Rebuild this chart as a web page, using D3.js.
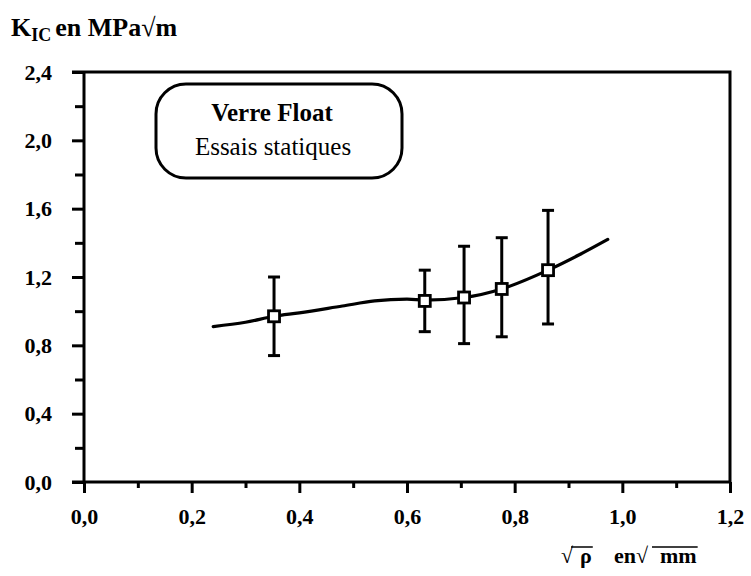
<!DOCTYPE html>
<html lang="fr">
<head>
<meta charset="UTF-8">
<title>Verre Float - Essais statiques</title>
<style>
  body { margin: 0; background: #fff; }
  svg { display: block; font-family: "Liberation Serif", "Times New Roman", serif; }
  .tick text { font-family: "Liberation Serif", serif; font-size: 22px; font-weight: bold; fill: #000; }
</style>
</head>
<body>
<svg id="chart" width="751" height="576"></svg>
<script src="https://d3js.org/d3.v7.min.js"></script>
<script>
// mesures (racine du rayon, KIC) avec barres d'erreur
const rootRho = [0.353, 0.633, 0.706, 0.776, 0.862];
const kic     = [0.97, 1.06, 1.08, 1.13, 1.24];
const kicLow  = [0.74, 0.88, 0.81, 0.85, 0.925];
const kicHigh = [1.20, 1.24, 1.38, 1.43, 1.59];

// courbe lissée
const curveX = [0.24, 0.30, 0.353, 0.40, 0.48, 0.54, 0.60, 0.633, 0.706, 0.776, 0.862, 0.92, 0.973];
const curveY = [0.91, 0.935, 0.97, 0.99, 1.03, 1.06, 1.07, 1.065, 1.08, 1.13, 1.24, 1.33, 1.42];

const xTicks = [0, 0.2, 0.4, 0.6, 0.8, 1.0, 1.2];
const xMinor = [0.1, 0.3, 0.5, 0.7, 0.9, 1.1];
const yTicks = [0, 0.4, 0.8, 1.2, 1.6, 2.0, 2.4];
const yMinor = [0.2, 0.6, 1.0, 1.4, 1.8, 2.2];

const svg = d3.select("#chart");
const x = d3.scaleLinear().domain([0, 1.2]).range([84, 730]);
const y = d3.scaleLinear().domain([0, 2.4]).range([482, 72]);
const fmt = d => d3.format(".1f")(d).replace(".", ",");

// axes
const axisStyle = g => {
  g.select(".domain").remove();
  g.selectAll("line").attr("stroke", "#000").attr("stroke-width", 3);
};

svg.append("g").attr("transform", `translate(${x(0)},0)`)
  .call(d3.axisLeft(y).tickValues(yTicks).tickSize(12).tickPadding(20).tickFormat(fmt))
  .call(axisStyle);
svg.append("g").attr("transform", `translate(${x(0)},0)`)
  .call(d3.axisLeft(y).tickValues(yMinor).tickSize(9).tickFormat(""))
  .call(axisStyle);
svg.append("g").attr("transform", `translate(0,${y(0)})`)
  .call(d3.axisBottom(x).tickValues(xTicks).tickSize(11).tickPadding(15).tickFormat(fmt))
  .call(axisStyle);
svg.append("g").attr("transform", `translate(0,${y(0)})`)
  .call(d3.axisBottom(x).tickValues(xMinor).tickSize(6).tickFormat(""))
  .call(axisStyle);

// cadre
svg.append("path")
  .attr("d", `M${x(0) - 12},${y(2.4)}H${x(1.2)}V${y(0)}`)
  .attr("fill", "none").attr("stroke", "#000").attr("stroke-width", 3);
svg.append("line")
  .attr("x1", x(0)).attr("x2", x(0)).attr("y1", y(2.4)).attr("y2", y(0))
  .attr("stroke", "#000").attr("stroke-width", 3);
svg.append("line")
  .attr("x1", x(0) - 12).attr("x2", x(1.2)).attr("y1", y(0)).attr("y2", y(0))
  .attr("stroke", "#000").attr("stroke-width", 3);

// courbe
const line = d3.line().x(d => x(d[0])).y(d => y(d[1])).curve(d3.curveMonotoneX);
svg.append("path")
  .datum(d3.zip(curveX, curveY))
  .attr("d", line)
  .attr("fill", "none").attr("stroke", "#000").attr("stroke-width", 3.2)
  .attr("stroke-linecap", "round");

// barres d'erreur
const pts = rootRho.map((r, i) => ({ r, k: kic[i], lo: kicLow[i], hi: kicHigh[i] }));
const eb = svg.append("g").attr("stroke", "#000").attr("stroke-width", 3);
eb.selectAll(".v").data(pts).join("line")
  .attr("x1", d => x(d.r)).attr("x2", d => x(d.r))
  .attr("y1", d => y(d.lo)).attr("y2", d => y(d.hi));
eb.selectAll(".t").data(pts).join("line")
  .attr("x1", d => x(d.r) - 6).attr("x2", d => x(d.r) + 6)
  .attr("y1", d => y(d.hi)).attr("y2", d => y(d.hi));
eb.selectAll(".b").data(pts).join("line")
  .attr("x1", d => x(d.r) - 6).attr("x2", d => x(d.r) + 6)
  .attr("y1", d => y(d.lo)).attr("y2", d => y(d.lo));

// marqueurs carrés
svg.append("g").selectAll("rect").data(pts).join("rect")
  .attr("x", d => x(d.r) - 5.5).attr("y", d => y(d.k) - 5.5)
  .attr("width", 11).attr("height", 11)
  .attr("fill", "#fff").attr("stroke", "#000").attr("stroke-width", 2.8);

// légende
svg.append("rect")
  .attr("x", 156).attr("y", 84).attr("width", 246).attr("height", 94)
  .attr("rx", 30).attr("ry", 30)
  .attr("fill", "#fff").attr("stroke", "#000").attr("stroke-width", 3);
svg.append("text").attr("x", 272).attr("y", 121).attr("text-anchor", "middle")
  .attr("font-size", 25).attr("font-weight", "bold").text("Verre Float");
svg.append("text").attr("x", 273).attr("y", 155).attr("text-anchor", "middle")
  .attr("font-size", 25).text("Essais statiques");

// titre axe Y
const yt = svg.append("text").attr("x", 11).attr("y", 36)
  .attr("font-size", 26).attr("font-weight", "bold");
yt.append("tspan").text("K");
yt.append("tspan").attr("font-size", 18).attr("dy", 5).text("IC");
yt.append("tspan").attr("dy", -5).attr("dx", 4).text("en MPa\u221Am");

// titre axe X
const xt = svg.append("g").attr("font-size", 22).attr("font-weight", "bold");
const parts = [
  { t: "\u221A", x: 561 },
  { t: "\u03C1", x: 580, bar: 571 },
  { t: "en\u221A", x: 614 },
  { t: "mm", x: 660, bar: 652 }
];
parts.forEach(p => {
  const el = xt.append("text").attr("x", p.x).attr("y", 563).text(p.t);
  if (p.bar) {
    const w = el.node().getComputedTextLength();
    xt.append("line").attr("x1", p.bar).attr("x2", p.x + w + 1)
      .attr("y1", 547).attr("y2", 547).attr("stroke", "#000").attr("stroke-width", 1.5);
  }
});
</script>
</body>
</html>
